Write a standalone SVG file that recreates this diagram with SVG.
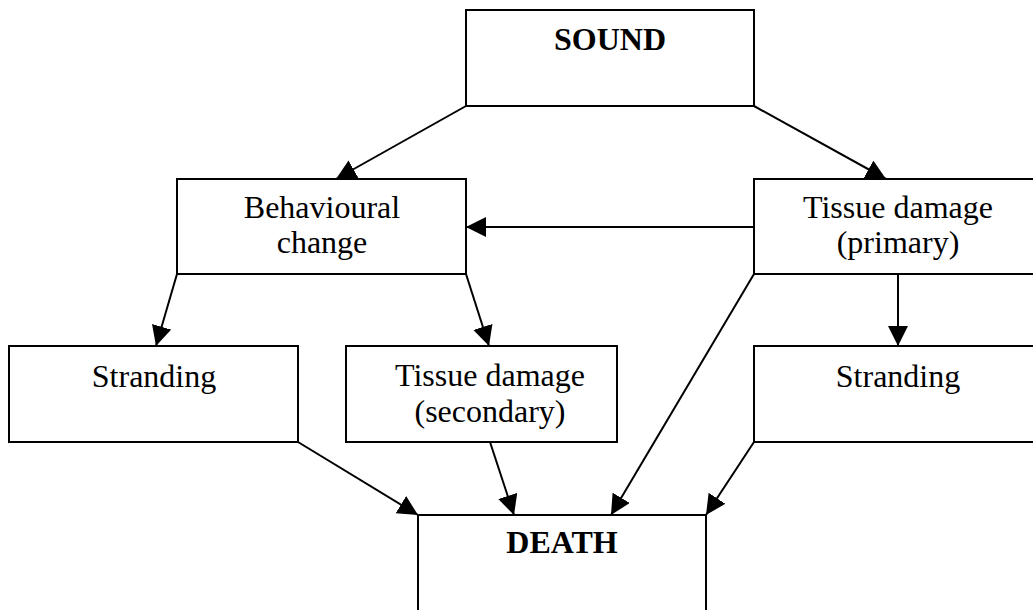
<svg xmlns="http://www.w3.org/2000/svg" width="1033" height="610" viewBox="0 0 1033 610">
  <style>
    .box { fill: #ffffff; stroke: #000000; stroke-width: 2; }
    .lbl { font-family: "Liberation Serif", "Times New Roman", serif; font-size: 32px; fill: #000000; text-anchor: middle; }
    .bold { font-weight: bold; }
    .conn { stroke: #000000; stroke-width: 2; fill: none; marker-end: url(#arrow); }
  </style>
  <defs>
    <marker id="arrow" markerUnits="userSpaceOnUse" markerWidth="21" markerHeight="21" refX="20" refY="10" orient="auto">
      <path d="M0,0 L20,10 L0,20 Z" fill="#000000"/>
    </marker>
  </defs>
  <rect width="1033" height="610" fill="#ffffff"/>

  <g id="sound">
    <rect class="box" x="466" y="10" width="288" height="96"/>
    <text class="lbl bold" x="610" y="50">SOUND</text>
  </g>
  <g id="behavioural">
    <rect class="box" x="177" y="179" width="289" height="95"/>
    <text class="lbl" x="322" y="218">Behavioural</text>
    <text class="lbl" x="322" y="253">change</text>
  </g>
  <g id="tissue-primary">
    <rect class="box" x="754" y="179" width="300" height="95"/>
    <text class="lbl" x="898" y="218">Tissue damage</text>
    <text class="lbl" x="898" y="253">(primary)</text>
  </g>
  <g id="stranding-left">
    <rect class="box" x="9" y="346" width="289" height="96"/>
    <text class="lbl" x="154" y="387">Stranding</text>
  </g>
  <g id="tissue-secondary">
    <rect class="box" x="346" y="346" width="271" height="96"/>
    <text class="lbl" x="490" y="386">Tissue damage</text>
    <text class="lbl" x="490" y="422">(secondary)</text>
  </g>
  <g id="stranding-right">
    <rect class="box" x="754" y="346" width="300" height="96"/>
    <text class="lbl" x="898" y="387">Stranding</text>
  </g>
  <g id="death">
    <rect class="box" x="418" y="515" width="288" height="120"/>
    <text class="lbl bold" x="562" y="553">DEATH</text>
  </g>

  <g id="connectors">
    <line class="conn" x1="466" y1="106" x2="336" y2="179"/>
    <line class="conn" x1="754" y1="106" x2="886" y2="179"/>
    <line class="conn" x1="754" y1="227" x2="466" y2="227"/>
    <line class="conn" x1="177" y1="274" x2="156" y2="346"/>
    <line class="conn" x1="466" y1="274" x2="489" y2="346"/>
    <line class="conn" x1="898" y1="274" x2="898" y2="346"/>
    <line class="conn" x1="754" y1="274" x2="611" y2="515"/>
    <line class="conn" x1="298" y1="442" x2="418" y2="515"/>
    <line class="conn" x1="490" y1="442" x2="514" y2="515"/>
    <line class="conn" x1="754" y1="442" x2="706" y2="515"/>
  </g>
</svg>
